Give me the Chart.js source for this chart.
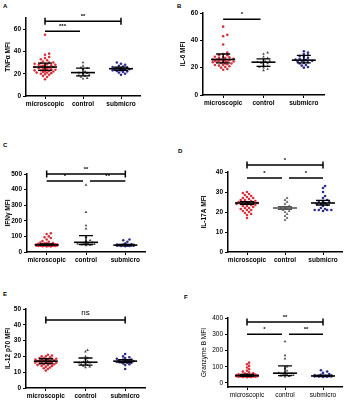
<!DOCTYPE html>
<html>
<head>
<meta charset="utf-8">
<script src="https://cdn.jsdelivr.net/npm/chart.js@4.4.1/dist/chart.umd.min.js"></script>
<style>
  body { margin: 0; background: #fff; width: 347px; height: 400px; position: relative; overflow: hidden; }
  canvas { position: absolute; }
  .letter { position: absolute; font: bold 6px "Liberation Sans", Arial, sans-serif; color: #000; }
</style>
</head>
<body>
<div class="letter" style="left:3px;top:3px">A</div>
<div class="letter" style="left:177px;top:3px">B</div>
<div class="letter" style="left:3px;top:142px">C</div>
<div class="letter" style="left:178px;top:148px">D</div>
<div class="letter" style="left:3px;top:291px">E</div>
<div class="letter" style="left:184px;top:294px">F</div>
<canvas id="cA"></canvas>
<canvas id="cB"></canvas>
<canvas id="cC"></canvas>
<canvas id="cD"></canvas>
<canvas id="cE"></canvas>
<canvas id="cF"></canvas>
<script>
// groups on every panel
const cats = ['microscopic', 'control', 'submicro'];

// A - TNFa
const aMicro = [55, 38, 37, 35, 34, 33, 32, 31, 30, 30, 29.5, 29, 29, 28.5, 28, 28, 27.5, 27, 27, 26.5, 26, 26, 26, 25.5, 25, 25, 24.5, 24, 24, 23.5, 23, 23, 22.5, 22, 22, 21.5, 21, 21, 20.5, 20, 19.5, 19, 18, 17, 15];
const aControl = [30, 27, 25.5, 25, 24, 22, 21, 20.5, 20, 19, 18.5, 18, 17, 16, 15.5];
const aSub = [30, 29, 28, 27, 26.5, 26, 25.5, 25, 25, 24.5, 24.5, 24, 24, 23.5, 23, 23, 22.5, 22, 21.5, 21, 20, 19];
const aMid = [26, 21, 24.5], aLow = [23, 18, 23], aHigh = [29.5, 25, 26];
const aTicks = [0, 20, 40, 60];
const aSig = [{from: 0, to: 2, y: 67, text: '**', cap: true}, {from: 0, to: 1, y: 58, text: '***', cap: false}];

// B - IL-6
const bMicro = [50, 44, 43, 37, 31, 30, 29, 29, 28, 28, 27.5, 27, 27, 26.5, 26, 26, 26, 25.5, 25.5, 25, 25, 25, 24.5, 24.5, 24, 24, 24, 23.5, 23, 23, 22.5, 22, 22, 21.5, 21, 20.5, 20, 19, 18.5];
const bControl = [31, 30, 28, 27, 26, 25, 24.5, 24, 23.5, 23, 22, 21, 20.5, 20, 19, 18];
const bSub = [32, 31, 30, 29, 28.5, 28, 27, 26.5, 26, 26, 25.5, 25, 25, 24.5, 24, 23.5, 23, 22, 21.5, 20.5, 20];
const bMid = [26, 24, 25.5], bLow = [23.5, 21, 23.5], bHigh = [30, 26.5, 29];
const bTicks = [0, 20, 40, 60];
const bSig = [{from: 0, to: 1, y: 55.5, text: '*', cap: false}];

// C - IFNg
const cMicro = [120, 115, 100, 95, 90, 80, 70, 65, 60, 58, 55, 55, 52, 50, 50, 50, 48, 48, 47, 46, 46, 45, 45, 44, 44, 43, 43, 42, 42, 41, 41, 40, 40, 40, 39, 38, 38, 37, 36, 35];
const cControl = [430, 255, 170, 150, 95, 75, 70, 62, 58, 55, 52, 50, 48, 45, 42];
const cSub = [80, 75, 65, 55, 50, 48, 47, 46, 45, 45, 44, 44, 43, 42, 42, 41, 40, 40, 39, 38, 37];
const cMid = [46, 62, 44], cLow = [42, 48, 41], cHigh = [52, 105, 48];
const cTicks = [0, 100, 200, 300, 400, 500];
const cSig = [{from: 0, to: 2, y: 500, text: '**', cap: true}, {from: 0, to: 1, y: 455, text: '*', cap: false}, {from: 1, to: 2, y: 455, text: '**', cap: false}];

// D - IL-17A
const dMicro = [30, 29.5, 29, 28.5, 28, 27.5, 27, 27, 26.5, 26, 26, 25.5, 25.5, 25, 25, 25, 24.5, 24.5, 24.5, 24, 24, 24, 23.5, 23.5, 23, 23, 22.5, 22, 22, 21.5, 21, 21, 20.5, 20, 19.5, 19, 18.5, 17];
const dControl = [27, 26, 25, 24, 23, 22.5, 22, 22, 21.5, 21, 20.5, 20, 19, 18, 17, 16];
const dSub = [33, 32, 30, 28, 27, 26, 25.5, 25, 25, 24.5, 24, 24, 23.5, 23, 22, 21.5, 21, 21, 21, 21, 20.5];
const dMid = [24.5, 22, 24.5], dLow = [23.8, 21.3, 23.5], dHigh = [25.2, 22.7, 25.8];
const dTicks = [0, 10, 20, 30, 40];
const dSig = [{from: 0, to: 2, y: 43.5, text: '*', cap: true}, {from: 0, to: 1, y: 37, text: '*', cap: false}, {from: 1, to: 2, y: 37, text: '*', cap: false}];

// E - IL-12 p70
const eMicro = [21, 20.5, 20, 20, 19.5, 19, 19, 18.5, 18.5, 18, 18, 18, 17.5, 17.5, 17, 17, 17, 17, 16.5, 16.5, 16.5, 16, 16, 16, 15.5, 15.5, 15, 15, 14.5, 14.5, 14, 14, 13.5, 13, 12.5, 12, 11];
const eControl = [24, 23, 20, 19, 18, 17, 16.5, 16, 16, 15.5, 15, 14.5, 14, 13.5, 13];
const eSub = [21.5, 20, 19.5, 19, 18.5, 18, 18, 17.5, 17.5, 17, 17, 17, 16.5, 16.5, 16, 16, 15.5, 15, 14.5, 12];
const eMid = [17, 16.3, 17], eLow = [15.5, 14.5, 16], eHigh = [18.5, 19, 18];
const eTicks = [0, 10, 20, 30, 40, 50];
const eSig = [{from: 0, to: 2, y: 43, text: 'ns', cap: true}];

// F - Granzyme B
const fMicro = [125, 115, 105, 95, 85, 75, 70, 65, 60, 58, 55, 53, 52, 50, 50, 48, 48, 47, 46, 46, 45, 45, 44, 44, 43, 43, 42, 42, 41, 41, 40, 40, 40, 39, 38, 38, 37, 36, 35];
const fControl = [255, 170, 150, 100, 90, 75, 65, 62, 58, 55, 52, 48, 45, 42, 38];
const fSub = [78, 70, 62, 55, 50, 48, 47, 46, 45, 44, 44, 43, 42, 42, 41, 40, 40, 39, 38, 37];
const fMid = [45, 60, 43], fLow = [41, 45, 40], fHigh = [52, 105, 47];
const fTicks = [0, 100, 200, 300, 400];
const fSig = [{from: 0, to: 2, y: 375, text: '**', cap: true}, {from: 0, to: 1, y: 300, text: '*', cap: false}, {from: 1, to: 2, y: 300, text: '**', cap: false}];

const pointColors = ['#d8303c', '#4a4a4a', '#2e2e8e'];
const pointStyles = ['circle', 'triangle', 'circle'];
const pointSizes = [1.3, 1.6, 1.3];
const FONT = '"Liberation Sans", Arial, sans-serif';

// chart area box (L, T, R, B) on the page plus room round it
const panels = [
    {id: 'cA', L: 26, T: 18, R: 140, B: 96, yw: 26, pt: 14, pr: 6, xh: 14, min: 0, max: 70, ticks: aTicks, title: 'TNFα MFI',
     groups: [aMicro, aControl, aSub], mid: aMid, low: aLow, high: aHigh, sig: aSig, weight: 'bold'},
    {id: 'cB', L: 203, T: 13, R: 324, B: 95, yw: 28, pt: 9, pr: 8, xh: 14, min: 0, max: 60, ticks: bTicks, title: 'IL-6 MFI',
     groups: [bMicro, bControl, bSub], mid: bMid, low: bLow, high: bHigh, sig: bSig, weight: 'bold'},
    {id: 'cC', L: 27, T: 174, R: 145, B: 252, yw: 27, pt: 14, pr: 6, xh: 14, min: 0, max: 500, ticks: cTicks, title: 'IFNγ MFI',
     groups: [cMicro, cControl, cSub], mid: cMid, low: cLow, high: cHigh, sig: cSig, weight: 'bold'},
    {id: 'cD', L: 228, T: 172, R: 342, B: 252, yw: 32, pt: 20, pr: 4, xh: 14, min: 0, max: 40, ticks: dTicks, title: 'IL-17A MFI',
     groups: [dMicro, dControl, dSub], mid: dMid, low: dLow, high: dHigh, sig: dSig, weight: 'bold'},
    {id: 'cE', L: 26, T: 309, R: 145, B: 388, yw: 26, pt: 14, pr: 6, xh: 12, min: 0, max: 50, ticks: eTicks, title: 'IL-12 p70 MFI',
     groups: [eMicro, eControl, eSub], mid: eMid, low: eLow, high: eHigh, sig: eSig, weight: 'bold'},
    {id: 'cF', L: 228, T: 318, R: 342, B: 387, yw: 32, pt: 14, pr: 4, xh: 13, min: -25, max: 400, ticks: fTicks, title: 'Granzyme B MFI',
     groups: [fMicro, fControl, fSub], mid: fMid, low: fLow, high: fHigh, sig: fSig, weight: 'normal'}
];

// spread points sideways so they don't overlap (deterministic, by value order),
// never wider than maxPx either side; when crowded, take the least-crowded slot
function swarm(values, pxY, pxX, diam, maxPx) {
    const order = values.map((v, i) => i).sort((a, b) => values[a] - values[b]);
    const placed = [];
    const offs = new Array(values.length).fill(0);
    const step = diam * 0.8;
    const nMax = Math.floor(maxPx / step);
    order.forEach(i => {
        const y = values[i] * pxY;
        let best = 0, bestD = -1;
        for (let k = 0; k <= nMax * 2; k++) {
            const n = Math.ceil(k / 2) * (k % 2 ? 1 : -1);
            const x = n * step;
            let dMin = Infinity;
            placed.forEach(p => { dMin = Math.min(dMin, Math.hypot(p.x - x, p.y - y)); });
            if (dMin >= diam) { best = x; bestD = Infinity; break; }
            if (dMin > bestD + 0.3) { bestD = dMin; best = x; }
        }
        placed.push({x: best, y: y});
        offs[i] = best / pxX;
    });
    return offs;
}

const statsPlugin = {
    id: 'stats',
    afterDatasetsDraw(chart, args, opts) {
        const p = opts.panel;
        const ctx = chart.ctx;
        const xs = chart.scales.x, ys = chart.scales.y;
        ctx.save();
        // median + range whiskers
        for (let i = 0; i < 3; i++) {
            const x = xs.getPixelForValue(i);
            ctx.strokeStyle = (p.id === 'cD' && i === 1) ? '#555' : '#000';
            ctx.lineWidth = 1.6;
            ctx.beginPath();
            ctx.moveTo(x - 12, ys.getPixelForValue(p.mid[i]));
            ctx.lineTo(x + 12, ys.getPixelForValue(p.mid[i]));
            ctx.stroke();
            ctx.lineWidth = 1.3;
            const yl = ys.getPixelForValue(p.low[i]), yh = ys.getPixelForValue(p.high[i]);
            ctx.beginPath();
            ctx.moveTo(x, yl); ctx.lineTo(x, yh);
            ctx.moveTo(x - 7, yl); ctx.lineTo(x + 7, yl);
            ctx.moveTo(x - 7, yh); ctx.lineTo(x + 7, yh);
            ctx.stroke();
        }
        // significance bars
        ctx.strokeStyle = '#000';
        ctx.fillStyle = '#000';
        ctx.lineWidth = 1.5;
        ctx.textAlign = 'center';
        ctx.textBaseline = 'bottom';
        p.sig.forEach(s => {
            let x1 = xs.getPixelForValue(s.from), x2 = xs.getPixelForValue(s.to);
            if (!s.cap) {
                if (s.from === 1) x1 += 4;
                if (s.to === 1) x2 -= 3;
            }
            const y = ys.getPixelForValue(s.y);
            ctx.beginPath();
            ctx.moveTo(x1, y); ctx.lineTo(x2, y);
            if (s.cap) {
                ctx.moveTo(x1, y - 3.5); ctx.lineTo(x1, y + 3.5);
                ctx.moveTo(x2, y - 3.5); ctx.lineTo(x2, y + 3.5);
            }
            ctx.stroke();
            ctx.font = s.text === 'ns' ? '8px ' + FONT : 'bold 6px ' + FONT;
            ctx.fillText(s.text, (x1 + x2) / 2, y - (s.text === 'ns' ? 3 : 2));
        });
        ctx.restore();
    }
};

panels.forEach(p => {
    const cv = document.getElementById(p.id);
    const w = p.yw + (p.R - p.L) + p.pr;
    const h = p.pt + (p.B - p.T) + p.xh;
    cv.width = w; cv.height = h;
    cv.style.left = (p.L - p.yw) + 'px';
    cv.style.top = (p.T - p.pt) + 'px';

    const pxY = (p.B - p.T) / (p.max - p.min);
    const pxX = (p.R - p.L) / 3;
    const datasets = p.groups.map((g, i) => {
        const offs = swarm(g, pxY, pxX, 2.6, i === 0 ? 12 : 9);
        return {
            data: g.map((v, j) => ({x: i + offs[j], y: v})),
            pointStyle: pointStyles[i],
            pointRadius: pointSizes[i],
            backgroundColor: pointColors[i],
            borderColor: pointColors[i],
            borderWidth: 0,
            clip: false
        };
    });
    const tickFont = {family: FONT, size: 6.5, weight: p.weight};

    new Chart(cv.getContext('2d'), {
        type: 'scatter',
        data: {datasets: datasets},
        options: {
            responsive: false,
            animation: false,
            layout: {padding: {top: p.pt, right: p.pr, left: 0, bottom: 0}},
            plugins: {legend: {display: false}, tooltip: {enabled: false}, stats: {panel: p}},
            scales: {
                x: {
                    type: 'linear', min: -0.5, max: 2.5,
                    afterBuildTicks: s => { s.ticks = [0, 1, 2].map(v => ({value: v})); },
                    afterFit: s => { s.height = p.xh; },
                    grid: {drawOnChartArea: false, tickLength: 3, color: '#000', lineWidth: 1},
                    border: {color: '#000', width: 1.5},
                    ticks: {callback: v => cats[v], font: tickFont, color: '#000', padding: 1, maxRotation: 0, autoSkip: false}
                },
                y: {
                    min: p.min, max: p.max,
                    afterBuildTicks: s => { s.ticks = p.ticks.map(v => ({value: v})); },
                    afterFit: s => { s.width = p.yw; },
                    grid: {drawOnChartArea: false, tickLength: 3, color: '#000', lineWidth: 1},
                    border: {color: '#000', width: 1.5},
                    ticks: {font: tickFont, color: '#000', padding: 2},
                    title: {display: true, text: p.title, font: {family: FONT, size: 6.5, weight: p.weight}, color: '#000', padding: {top: 4, bottom: 0}}
                }
            }
        },
        plugins: [statsPlugin]
    });
});
</script>
</body>
</html>
